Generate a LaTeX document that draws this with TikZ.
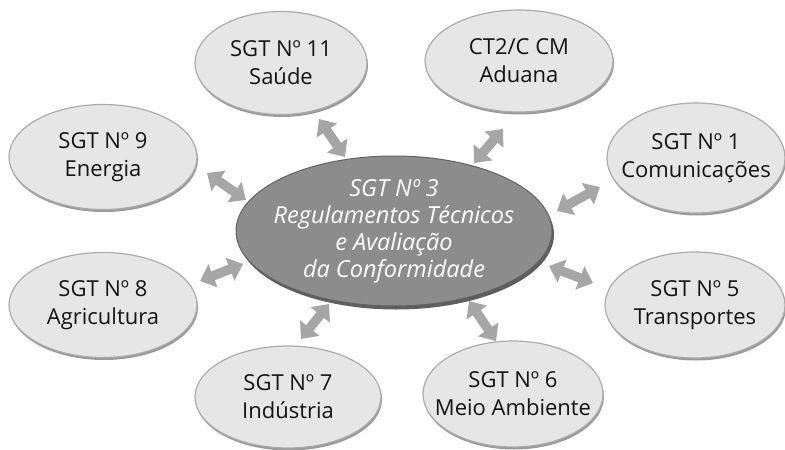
\documentclass[tikz,border=0pt]{standalone}
\usepackage{fontspec}
\setmainfont{Open Sans}
\usetikzlibrary{shapes.geometric,arrows.meta,shadows}
\definecolor{ofill}{HTML}{E6E6E6}
\definecolor{oline}{HTML}{ABABAB}
\definecolor{oshadow}{HTML}{9A9A9A}
\definecolor{cfill}{HTML}{8C8C8C}
\definecolor{cline}{HTML}{626262}
\definecolor{cshadow}{HTML}{5E5E5E}
\definecolor{arr}{HTML}{A6A6A6}
\definecolor{txt}{HTML}{141414}
\begin{document}
\begin{tikzpicture}[x=1pt,y=-1pt,
  outer/.style={ellipse,inner sep=0pt,fill=ofill,draw=oline,line width=1.2pt,
    drop shadow={shadow xshift=1pt,shadow yshift=-2.5pt,fill=oshadow,opacity=1}},
  otext/.style={align=center,inner sep=0pt,font=\fontsize{22}{28}\selectfont,text=txt},
  center/.style={ellipse,inner sep=0pt,fill=cfill,draw=cline,line width=1pt,
    drop shadow={shadow xshift=2pt,shadow yshift=-3.5pt,fill=cshadow,opacity=1}},
  ctext/.style={align=center,inner sep=0pt,font=\fontsize{23.5}{27}\selectfont\itshape,text=white},
  link/.style={arr,line width=9.5pt,{Triangle[width=24pt,length=14pt]}-{Triangle[width=24pt,length=14pt]}}]
\useasboundingbox (0,0) rectangle (785,450);
\node[outer,minimum width=172pt,minimum height=103pt] (sau) at (281,63) {};
\node[otext] (sau-t) at (sau.center) {SGT Nº 11\\Saúde};
\node[outer,minimum width=188pt,minimum height=102pt] (adu) at (519,61) {};
\node[otext] (adu-t) at (adu.center) {CT2/C CM\\Aduana};
\node[outer,minimum width=178pt,minimum height=110pt] (com) at (696,158) {};
\node[otext] (com-t) at (com.center) {SGT Nº 1\\Comunicações};
\node[outer,minimum width=188pt,minimum height=105pt] (ene) at (103,157) {};
\node[otext] (ene-t) at (ene.center) {SGT Nº 9\\Energia};
\node[outer,minimum width=188pt,minimum height=105pt] (agr) at (103,305) {};
\node[otext] (agr-t) at (agr.center) {SGT Nº 8\\Agricultura};
\node[outer,minimum width=180pt,minimum height=106pt] (tra) at (695,305) {};
\node[otext] (tra-t) at (tra.center) {SGT Nº 5\\Transportes};
\node[outer,minimum width=186pt,minimum height=102pt] (ind) at (288,397) {};
\node[otext] (ind-t) at (ind.center) {SGT Nº 7\\Indústria};
\node[outer,minimum width=180pt,minimum height=106pt] (mei) at (513,394) {};
\node[otext] (mei-t) at (mei.center) {SGT Nº 6\\Meio Ambiente};
\node[center,minimum width=316pt,minimum height=150pt] (sgt) at (394,231) {};
\node[ctext] (sgt-t) at (sgt.center) {SGT Nº 3\\Regulamentos Técnicos\\e Avaliação\\da Conformidade};
% arrow end points
\coordinate (sau1) at (319,119); \coordinate (sau2) at (345,157);
\coordinate (adu1) at (503,129); \coordinate (adu2) at (474,163);
\coordinate (com1) at (600,187); \coordinate (com2) at (557,211);
\coordinate (ene1) at (207,173); \coordinate (ene2) at (246,200);
\coordinate (agr1) at (200,281); \coordinate (agr2) at (243,264);
\coordinate (tra1) at (549,266); \coordinate (tra2) at (593,283);
\coordinate (ind1) at (329,304); \coordinate (ind2) at (301,339);
\coordinate (mei1) at (469,301); \coordinate (mei2) at (496,341);
\foreach \n in {sau,adu,com,ene,agr,tra,ind,mei} {\draw[link] (\n1) -- (\n2);}
\end{tikzpicture}
\end{document}
